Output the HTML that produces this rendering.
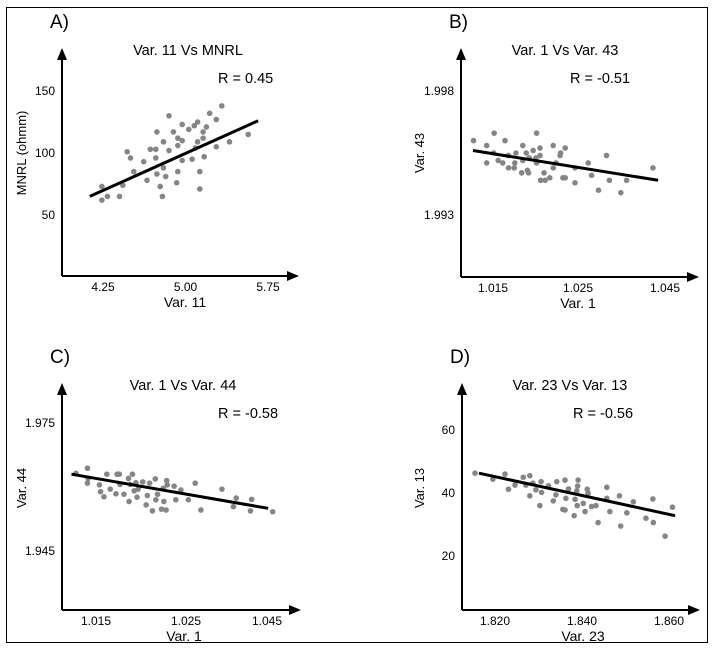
<!DOCTYPE html>
<html><head><meta charset="utf-8"><style>
html,body{margin:0;padding:0;background:#fff;}
svg{display:block;font-family:"Liberation Sans",Arial,sans-serif;}
</style></head><body>
<svg id="chart" width="713" height="648" viewBox="0 0 713 648" xmlns="http://www.w3.org/2000/svg">
<rect x="6.5" y="7.5" width="701" height="635" fill="none" stroke="#000" stroke-width="1"/>
</svg>
<script>
// ---- Panel A data ----
const aX = [4.24,4.24,4.29,4.40,4.43,4.47,4.50,4.53,4.62,4.65,4.68,4.73,4.73,4.74,4.74,4.77,4.79,4.80,4.80,4.82,4.85,4.85,4.89,4.92,4.93,4.93,4.93,4.97,4.97,4.97,5.03,5.06,5.08,5.09,5.11,5.11,5.13,5.13,5.16,5.16,5.17,5.19,5.22,5.28,5.28,5.33,5.40,5.57];
const aY = [73,62,65,65,74,101,96,85,93,78,103,103,96,117,83,73,65,109,88,81,130,102,117,76,112,106,85,123,110,94,119,95,122,104,125,109,85,71,117,112,97,121,132,127,105,138,109,115];
const aFit = [[4.13,65],[5.66,126]];
const aXTicks = [4.25,5.00,5.75];
const aXTickLabels = ["4.25","5.00","5.75"];
const aYTicks = [150,100,50];
const aYTickLabels = ["150","100","50"];
// ---- Panel B data ----
const bX = [1.0116,1.0139,1.0152,1.0171,1.0226,1.0202,1.0232,1.0255,1.0276,1.0139,1.0151,1.0159,1.0167,1.0177,1.0177,1.0187,1.0188,1.0190,1.0200,1.0202,1.0208,1.0210,1.0212,1.0213,1.0220,1.0225,1.0226,1.0232,1.0233,1.0241,1.0239,1.0249,1.0255,1.0260,1.0267,1.0268,1.0272,1.0276,1.0293,1.0293,1.0316,1.0322,1.0334,1.0348,1.0353,1.0373,1.0383,1.0429];
const bY = [1.9960,1.9958,1.9963,1.9960,1.9963,1.9958,1.9957,1.9958,1.9957,1.9951,1.9955,1.9952,1.9951,1.9949,1.9954,1.9949,1.9951,1.9955,1.9947,1.9952,1.9955,1.9948,1.9947,1.9953,1.9956,1.9953,1.9951,1.9954,1.9944,1.9944,1.9947,1.9945,1.9949,1.9951,1.9954,1.9955,1.9945,1.9945,1.9949,1.9943,1.9951,1.9946,1.9940,1.9954,1.9944,1.9939,1.9944,1.9949];
const bFit = [[1.0115,1.9956],[1.0438,1.9944]];
const bXTickLabels = ["1.015","1.025","1.045"];
const bYTicks = [1.998,1.993];
const bYTickLabels = ["1.998","1.993"];
// ---- Panel C data ----
const cX = [1.0115,1.0135,1.0135,1.0136,1.0156,1.0158,1.0164,1.0169,1.0175,1.0185,1.0187,1.0191,1.0192,1.0199,1.0207,1.0208,1.0210,1.0214,1.0217,1.0220,1.0222,1.0224,1.0232,1.0238,1.0240,1.0244,1.0249,1.0254,1.0255,1.0258,1.0265,1.0268,1.0269,1.0273,1.0274,1.0275,1.0287,1.0290,1.0299,1.0312,1.0324,1.0334,1.0371,1.0391,1.0396,1.0421,1.0423,1.0460];
const cY = [1.9632,1.9644,1.9609,1.9620,1.9605,1.9589,1.9577,1.9630,1.9595,1.9584,1.9630,1.9630,1.9606,1.9583,1.9620,1.9566,1.9606,1.9630,1.9591,1.9610,1.9576,1.9595,1.9612,1.9558,1.9580,1.9609,1.9544,1.9619,1.9570,1.9583,1.9548,1.9597,1.9566,1.9546,1.9615,1.9605,1.9602,1.9570,1.9593,1.9570,1.9609,1.9546,1.9595,1.9554,1.9574,1.9544,1.9571,1.9542];
const cFit = [[1.0107,1.9630],[1.0452,1.9550]];
const cXTickLabels = ["1.015","1.025","1.045"];
const cYTicks = [1.975,1.945];
const cYTickLabels = ["1.975","1.945"];
// ---- Panel D data ----
const dX = [1.8154,1.8195,1.8223,1.8231,1.8246,1.8265,1.8271,1.8280,1.8280,1.8287,1.8294,1.8303,1.8306,1.8307,1.8323,1.8334,1.8340,1.8342,1.8356,1.8361,1.8361,1.8363,1.8369,1.8382,1.8384,1.8388,1.8389,1.8390,1.8391,1.8403,1.8407,1.8412,1.8414,1.8422,1.8432,1.8437,1.8457,1.8457,1.8464,1.8486,1.8489,1.8503,1.8518,1.8547,1.8563,1.8564,1.8591,1.8608];
const dY = [46.3,44.4,46.0,41.2,42.5,45.0,42.5,45.5,39.1,43.1,41.0,36.0,43.6,40.2,42.3,37.5,39.4,43.6,34.8,44.1,34.6,38.3,41.3,32.8,38.0,40.7,36.0,42.2,44.1,36.7,34.1,41.2,39.9,35.7,36.0,30.6,41.8,38.3,34.1,39.1,29.5,33.7,37.2,32.0,38.1,30.6,26.3,35.5];
const dFit = [[1.8163,46.3],[1.8614,32.8]];
const dXTicks = [1.820,1.840,1.860];
const dXTickLabels = ["1.820","1.840","1.860"];
const dYTicks = [60,40,20];
const dYTickLabels = ["60","40","20"];

const NS = "http://www.w3.org/2000/svg";
const svg = document.getElementById('chart');
function mk(tag, attrs, parent){const e=document.createElementNS(NS,tag);for(const k in attrs)e.setAttribute(k,attrs[k]);(parent||svg).appendChild(e);return e;}
function lin(d0,d1,r0,r1){return v=>r0+(v-d0)*(r1-r0)/(d1-d0);}

function panel(p){
  const g = mk('g',{});
  
  
  const sx = p.sx, sy = p.sy;
  const ya = mk('line',{x1:p.ox,y1:p.top+8,x2:p.ox,y2:p.oy,stroke:'#000','stroke-width':2},g);
  
  
  const yar = mk('polygon',{points:`${p.ox-5},${p.top+10} ${p.ox+5},${p.top+10} ${p.ox},${p.top-2}`,fill:'#000'},g);
  
  
  const xa = mk('line',{x1:p.ox,y1:p.oy,x2:p.right-8,y2:p.oy,stroke:'#000','stroke-width':2},g);
  
  
  const xar = mk('polygon',{points:`${p.right-10},${p.oy-5} ${p.right-10},${p.oy+5} ${p.right+2},${p.oy}`,fill:'#000'},g);
  
  
  p.xTickPos.forEach((x,i)=>{
    const t = mk('text',{x:x,y:p.oy+15,'font-size':12,'text-anchor':'middle',fill:'#000'},g);
    t.textContent = p.xLabels[i];
    
    
  });
  p.yTicks.forEach((v,i)=>{
    const t = mk('text',{x:p.ox-7,y:sy(v)+4,'font-size':12,'text-anchor':'end',fill:'#000'},g);
    t.textContent = p.yLabels[i];
    
    
  });
  const L = mk('text',{x:p.ox-12,y:p.top-22,'font-size':19,fill:'#000'},g);
  L.textContent = p.id+')';
  
  
  const T = mk('text',{x:p.titleX,y:p.top+5,'font-size':14.5,'text-anchor':'middle',fill:'#000'},g);
  T.textContent = p.title;
  
  
  const R = mk('text',{x:p.rX,y:p.top+33,'font-size':14.5,fill:'#000'},g);
  R.textContent = p.r;
  
  
  const XT = mk('text',{x:p.xTitleX,y:p.oy+31,'font-size':14,'text-anchor':'middle',fill:'#000'},g);
  XT.textContent = p.xTitle;
  
  
  const YT = mk('text',{x:0,y:0,'font-size':13,'text-anchor':'middle',fill:'#000',transform:`translate(${p.yTitleX},${p.yTitleY}) rotate(-90)`},g);
  YT.textContent = p.yTitle;
  
  
  p.xs.forEach((x,i)=>{
    const c = mk('circle',{cx:sx(x),cy:sy(p.ys[i]),r:2.8,fill:'#858585'},g);
    
    
  });
  const f = mk('line',{x1:sx(p.fit[0][0]),y1:sy(p.fit[0][1]),x2:sx(p.fit[1][0]),y2:sy(p.fit[1][1]),stroke:'#000','stroke-width':3},g);
  
  
}

const asx = lin(4.25,5.75,103,268), asy = lin(150,50,91,215);
panel({id:'A',ox:62,oy:276,top:50,right:297,sx:asx,sy:asy,xs:aX,ys:aY,fit:aFit,
  xTickPos:aXTicks.map(asx),xLabels:aXTickLabels,yTicks:aYTicks,yLabels:aYTickLabels,
  title:'Var. 11 Vs MNRL',titleX:188,r:'R = 0.45',rX:218,xTitle:'Var. 11',xTitleX:185,yTitle:'MNRL (ohmm)',yTitleX:26,yTitleY:153});
const bsx = lin(1.015,1.045,493,665), bsy = lin(1.998,1.993,91,215);
panel({id:'B',ox:461,oy:277,top:50,right:697,sx:bsx,sy:bsy,xs:bX,ys:bY,fit:bFit,
  xTickPos:[493,578,665],xLabels:bXTickLabels,yTicks:bYTicks,yLabels:bYTickLabels,
  title:'Var. 1 Vs Var. 43',titleX:565,r:'R = -0.51',rX:570,xTitle:'Var. 1',xTitleX:578,yTitle:'Var. 43',yTitleX:424,yTitleY:153});
const csx = lin(1.015,1.045,96,267), csy = lin(1.975,1.945,423,551);
panel({id:'C',ox:62,oy:610,top:385,right:299,sx:csx,sy:csy,xs:cX,ys:cY,fit:cFit,
  xTickPos:[96,186,267],xLabels:cXTickLabels,yTicks:cYTicks,yLabels:cYTickLabels,
  title:'Var. 1 Vs Var. 44',titleX:183,r:'R = -0.58',rX:218,xTitle:'Var. 1',xTitleX:184,yTitle:'Var. 44',yTitleX:26,yTitleY:488});
const dsx = lin(1.82,1.86,495,669), dsy = lin(40,20,493,556);
panel({id:'D',ox:462,oy:610,top:385,right:698,sx:dsx,sy:dsy,xs:dX,ys:dY,fit:dFit,
  xTickPos:dXTicks.map(dsx),xLabels:dXTickLabels,yTicks:dYTicks,yLabels:dYTickLabels,
  title:'Var. 23 Vs Var. 13',titleX:570,r:'R = -0.56',rX:573,xTitle:'Var. 23',xTitleX:583,yTitle:'Var. 13',yTitleX:424,yTitleY:488});
</script>
</body></html>
